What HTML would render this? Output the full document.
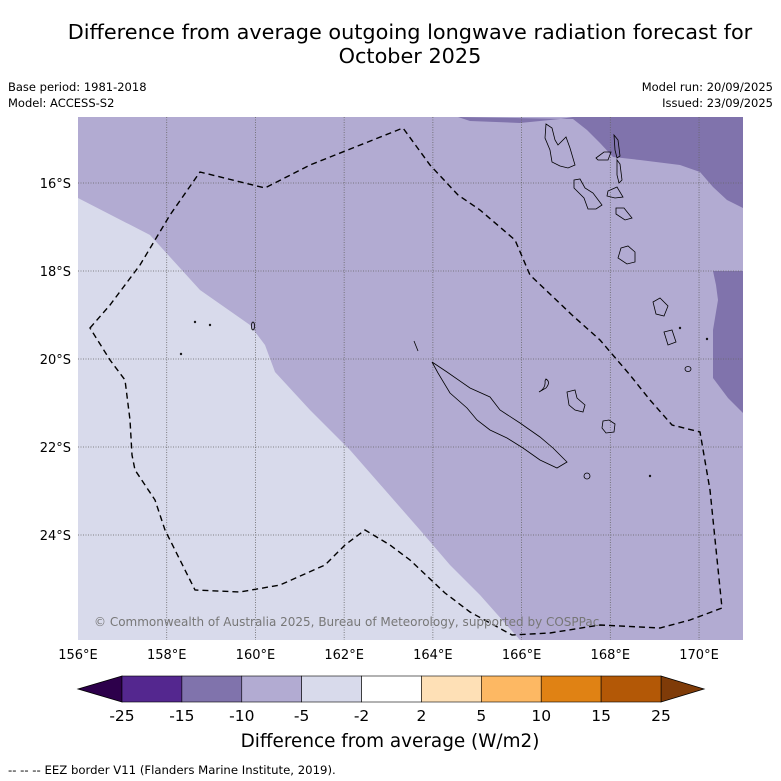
<!DOCTYPE html>
<html><head><meta charset="utf-8"><style>
body{margin:0;background:#fff;font-family:"DejaVu Sans","Liberation Sans",sans-serif;}
svg{display:block}
</style></head><body>
<svg id="chart" width="781" height="781" viewBox="0 0 781 781" xmlns="http://www.w3.org/2000/svg" font-family="DejaVu Sans, Liberation Sans, sans-serif">
<text x="410" y="39" font-size="20.8" text-anchor="middle">Difference from average outgoing longwave radiation forecast for</text>
<text x="410" y="63" font-size="20.8" text-anchor="middle">October 2025</text>
<text x="8" y="91" font-size="11.5">Base period: 1981-2018</text>
<text x="8" y="107" font-size="11.5">Model: ACCESS-S2</text>
<text x="773" y="91" font-size="11.5" text-anchor="end">Model run: 20/09/2025</text>
<text x="773" y="107" font-size="11.5" text-anchor="end">Issued: 23/09/2025</text>
<defs><clipPath id="mc"><rect x="78" y="117" width="665" height="523"/></clipPath></defs>
<g clip-path="url(#mc)">
<rect x="78" y="117" width="665" height="523" fill="#b2abd2"/>
<polygon fill="#d8daeb" points="78,198 150,235 200,290 250,325 265,345 275,372 310,410 350,450 385,490 420,530 450,565 480,595 520,640 78,640"/>
<polygon fill="#8073ac" points="458,117 470,121 520,123 560,119 573,117 743,117 743,208 727,200 713,187 700,172 680,165 640,160 613,157 600,143 587,130 573,119"/>
<polygon fill="#8073ac" points="713,271 743,271 743,413 728,398 713,378 713,330 718,300 716,285"/>
<g id="grid" stroke="#666" stroke-width="0.8" stroke-dasharray="1,1.5"></g>
<g fill="none" stroke="#000" stroke-width="0.8">
<polygon points="432,362 447,372 470,388 490,397 500,410 520,423 540,437 553,448 567,462 557,468 540,460 523,448 507,438 490,430 477,420 467,408 450,393 438,373"/>
<path d="M546,379 Q551,382 546,388 L539,392 Q546,388 545,381 Z"/>
<polygon points="567,392 575,390 577,398 585,405 583,412 575,410 569,405"/>
<polygon points="603,421 609,420 615,424 614,432 606,433 602,428"/>
<ellipse cx="587" cy="476" rx="3" ry="3"/>
<path d="M414,341 L418,351"/>
<polygon points="546,124 552,128 555,140 558,145 566,137 570,148 575,165 568,168 560,166 552,162 550,150 545,138"/>
<polygon points="574,180 580,179 585,188 593,193 602,205 596,209 588,209 584,198 574,188"/>
<polygon points="608,191 617,187 623,197 615,198 607,196"/>
<polygon points="614,135 618,140 620,156 617,158 615,150"/>
<polygon points="596,158 604,152 611,152 608,160 598,160"/>
<polygon points="617,160 620,164 622,180 619,183 617,175"/>
<polygon points="616,208 624,208 632,218 625,220 616,214"/>
<polygon points="621,248 628,246 635,252 635,262 627,264 618,258"/>
<polygon points="653,302 660,298 668,306 664,316 656,314"/>
<polygon points="664,332 672,330 676,342 668,345"/>
<ellipse cx="688" cy="369" rx="3" ry="2.5"/>
<ellipse cx="253" cy="326" rx="1.5" ry="4"/>
<circle cx="195" cy="322" r="0.8"/>
<circle cx="210" cy="325" r="0.8"/>
<circle cx="181" cy="354" r="0.8"/>
<circle cx="680" cy="328" r="0.8"/>
<circle cx="707" cy="339" r="0.8"/>
<circle cx="650" cy="476" r="0.8"/>
</g>
<polygon fill="none" stroke="#000" stroke-width="1.4" stroke-dasharray="6,4" points="90,328 110,305 140,265 170,215 200,172 265,188 310,165 403,128 430,165 458,195 480,210 515,240 530,275 572,315 600,340 630,375 650,400 672,425 700,432 710,490 722,608 690,620 660,628 600,625 550,633 512,635 470,612 445,593 410,560 390,545 365,530 345,545 325,565 280,585 240,592 195,590 180,560 165,530 155,500 135,470 132,455 130,420 125,380 110,360"/>
<text x="94" y="626" font-size="12" fill="#777">© Commonwealth of Australia 2025, Bureau of Meteorology, supported by COSPPac</text>
</g>
<g id="xticks" font-size="13"></g>
<g id="yticks" font-size="13"></g>
<g id="cbar"></g>
<text x="390" y="747" font-size="18.4" text-anchor="middle">Difference from average (W/m2)</text>
<text x="8" y="774" font-size="11.7">--  --  -- EEZ border V11 (Flanders Marine Institute, 2019).</text>
</svg>
<script>
const NS="http://www.w3.org/2000/svg";
const lonTicks=[156,158,160,162,164,166,168,170];
const latTicks=[16,18,20,22,24];
const cbLevels=[-25,-15,-10,-5,-2,2,5,10,15,25];
const cbColors=["#54278f","#8073ac","#b2abd2","#d8daeb","#ffffff","#fee0b6","#fdb863","#e08214","#b35806"];
const cbUnder="#2d004b", cbOver="#7f3b08";
const xOf=lon=>78+(lon-156)*44.36;
const yOf=lat=>183+(lat-16)*44;
function mk(tag,attrs,parent){const e=document.createElementNS(NS,tag);for(const k in attrs)e.setAttribute(k,attrs[k]);parent.appendChild(e);return e;}
const grid=document.getElementById('grid'),xt=document.getElementById('xticks'),yt=document.getElementById('yticks');
lonTicks.forEach(l=>{
  if(l>156){const g=mk('line',{x1:xOf(l),x2:xOf(l),y1:117,y2:640},grid);
  
  }
  const t=mk('text',{x:xOf(l),y:659,'text-anchor':'middle'},xt);t.textContent=l+'°E';
  
  
});
latTicks.forEach(l=>{
  const g=mk('line',{x1:78,x2:743,y1:yOf(l),y2:yOf(l)},grid);
  
  
  const t=mk('text',{x:71,y:yOf(l)+5,'text-anchor':'end'},yt);t.textContent=l+'°S';
  
  
});
const cb=document.getElementById('cbar');
const x0=122,x1=661,y0=676,y1=702,n=cbColors.length,w=(x1-x0)/n;
const lt=mk('polygon',{points:`${x0},${y0} ${x0},${y1} 78,${(y0+y1)/2}`,fill:cbUnder,stroke:'#000','stroke-width':0.8},cb);


const rt=mk('polygon',{points:`${x1},${y0} ${x1},${y1} 704,${(y0+y1)/2}`,fill:cbOver,stroke:'#000','stroke-width':0.8},cb);


cbColors.forEach((c,i)=>{
  const r=mk('rect',{x:x0+i*w,y:y0,width:w,height:y1-y0,fill:c,stroke:'#000','stroke-width':0.6},cb);
  
  
});
cbLevels.forEach((v,i)=>{
  const t=mk('text',{x:x0+i*w,y:721,'text-anchor':'middle','font-size':15.5},cb);t.textContent=v;
  
  
});
</script>
</body></html>
